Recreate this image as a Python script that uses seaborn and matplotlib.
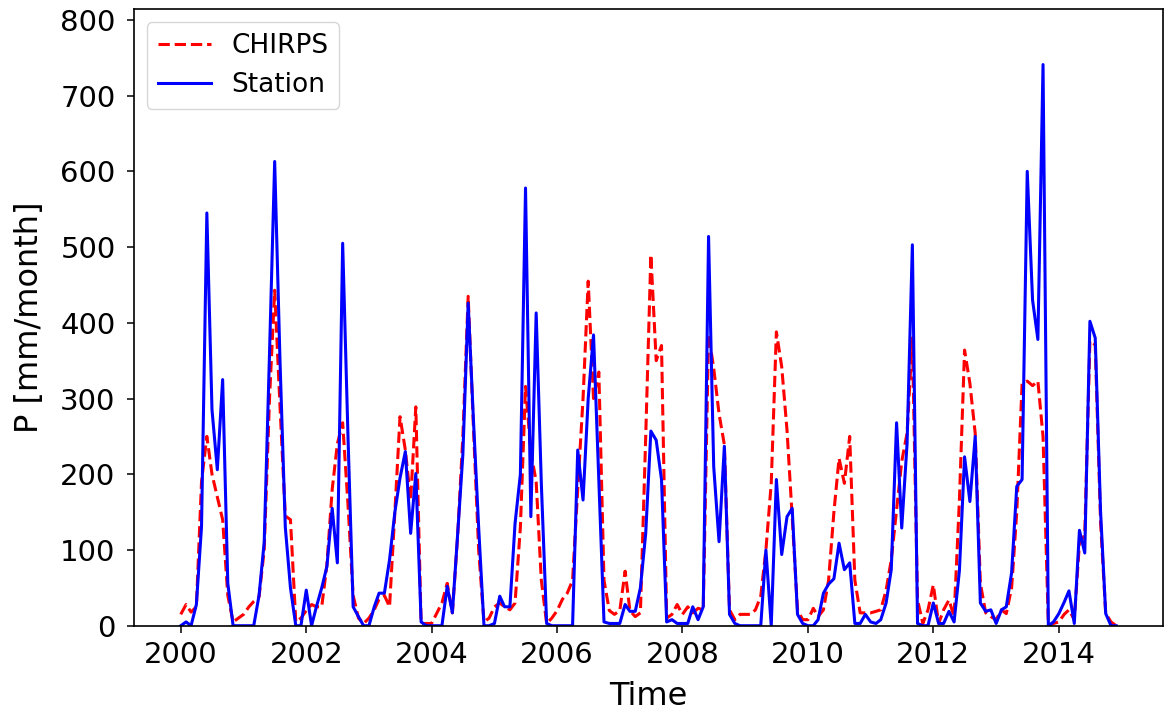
import numpy as np
import pandas as pd
import matplotlib
matplotlib.use("Agg")
import matplotlib.pyplot as plt
import matplotlib.dates as mdates
import seaborn as sns

# precipitação mensal (mm/month), jan/2000 - dez/2014
months = pd.date_range("2000-01-01", "2014-12-01", freq="MS")

station = [
    0, 5, 0, 28, 131, 545, 285, 206, 325, 56, 0, 0,          # 2000
    0, 0, 0, 40, 110, 360, 613, 350, 130, 50, 0, 0,          # 2001
    47, 0, 25, 50, 78, 155, 83, 505, 250, 25, 12, 0,         # 2002
    0, 25, 43, 43, 87, 150, 195, 230, 122, 201, 5, 0,        # 2003
    0, 0, 0, 52, 17, 122, 226, 426, 270, 130, 0, 0,          # 2004
    3, 39, 25, 25, 135, 200, 578, 144, 413, 188, 3, 0,       # 2005
    0, 0, 0, 0, 232, 166, 300, 384, 190, 5, 3, 3,            # 2006
    3, 28, 19, 19, 50, 122, 257, 245, 193, 5, 8, 3,          # 2007
    3, 3, 25, 8, 25, 514, 210, 111, 237, 15, 3, 0,           # 2008
    0, 0, 0, 0, 100, 0, 193, 94, 144, 155, 15, 3,            # 2009
    0, 0, 8, 43, 55, 62, 109, 74, 83, 3, 3, 15,              # 2010
    5, 3, 8, 30, 74, 268, 129, 240, 503, 3, 0, 0,            # 2011
    30, 3, 3, 19, 5, 73, 223, 164, 250, 30, 19, 21,          # 2012
    3, 21, 25, 70, 184, 193, 600, 430, 378, 741, 0, 5,       # 2013
    16, 31, 46, 3, 126, 96, 402, 380, 151, 16, 0, 0,         # 2014
]

chirps = [
    15, 28, 18, 25, 190, 250, 200, 170, 140, 40, 5, 10,      # 2000
    15, 25, 32, 38, 100, 300, 443, 290, 145, 140, 5, 10,     # 2001
    20, 28, 25, 25, 80, 180, 240, 268, 160, 40, 10, 3,       # 2002
    10, 21, 35, 40, 25, 150, 276, 232, 166, 289, 3, 3,       # 2003
    3, 17, 30, 56, 17, 120, 250, 435, 260, 100, 5, 10,       # 2004
    25, 30, 25, 21, 30, 130, 316, 230, 190, 60, 3, 10,       # 2005
    20, 35, 43, 60, 180, 300, 455, 300, 335, 60, 20, 15,     # 2006
    20, 72, 20, 12, 17, 250, 490, 350, 370, 10, 15, 28,      # 2007
    15, 25, 17, 23, 21, 385, 340, 280, 239, 21, 8, 15,       # 2008
    15, 15, 21, 39, 100, 188, 388, 342, 258, 144, 21, 8,     # 2009
    8, 23, 12, 21, 60, 150, 221, 188, 250, 60, 17, 17,       # 2010
    17, 19, 21, 47, 87, 153, 217, 254, 380, 34, 3, 21,       # 2011
    54, 3, 21, 34, 12, 166, 364, 320, 254, 56, 17, 12,       # 2012
    8, 21, 16, 50, 150, 320, 323, 317, 323, 250, 0, 3,       # 2013
    5, 15, 21, 8, 109, 120, 376, 371, 137, 16, 5, 0,         # 2014
]

df = pd.DataFrame({"Time": months, "CHIRPS": chirps, "Station": station})

fig, ax = plt.subplots(figsize=(11.64, 7.13), dpi=100)
fig.subplots_adjust(left=0.1151, right=0.9991, top=0.987, bottom=0.1224)

sns.lineplot(data=df, x="Time", y="CHIRPS", ax=ax, color="red",
             linestyle="--", linewidth=2.2, label="CHIRPS")
sns.lineplot(data=df, x="Time", y="Station", ax=ax, color="blue",
             linewidth=2.2, label="Station")

ax.set_ylim(0, 814)
ax.set_yticks(np.arange(0, 801, 100))
ax.xaxis.set_major_locator(mdates.YearLocator(2))
ax.xaxis.set_major_formatter(mdates.DateFormatter("%Y"))

ax.set_xlabel("Time", fontsize=23, labelpad=8)
ax.set_ylabel("P [mm/month]", fontsize=23, labelpad=11)
ax.tick_params(axis="both", labelsize=21, length=5.3, width=1.1)
ax.tick_params(axis="y", pad=8)
ax.tick_params(axis="x", pad=6)
for sp in ax.spines.values():
    sp.set_linewidth(1.2)

ax.legend(loc="upper left", fontsize=19)

fig.savefig("out.png", dpi=100)
